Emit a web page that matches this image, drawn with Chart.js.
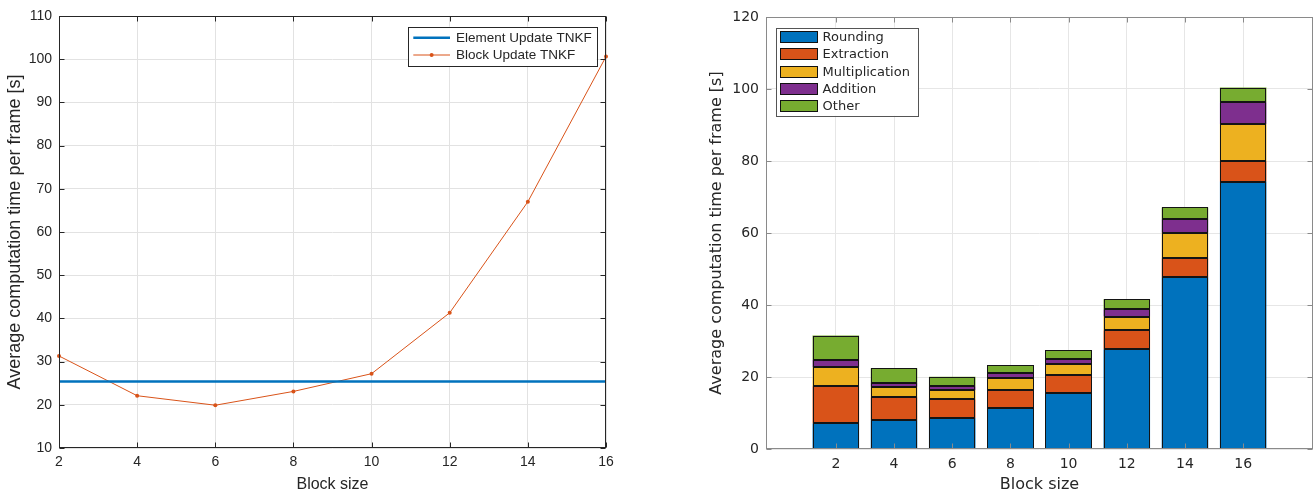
<!DOCTYPE html>
<html>
<head>
<meta charset="utf-8">
<script src="https://cdn.jsdelivr.net/npm/chart.js@4.4.0/dist/chart.umd.min.js"></script>
<style>
  html, body { margin: 0; padding: 0; background: #fff; overflow: hidden; width: 1316px; height: 492px; }
  canvas { position: absolute; top: 0; }
  #lineCanvas { left: 0; width: 630px; height: 500px; }
  #barCanvas { left: 660px; width: 656px; height: 500px; }
</style>
</head>
<body>
<canvas id="lineCanvas" width="630" height="500"></canvas>
<canvas id="barCanvas" width="656" height="500"></canvas>
<script>
// Block sizes evaluated
const blockSizes = [2, 4, 6, 8, 10, 12, 14, 16];

// Average computation time per frame [s]
const blockUpdateTime = [31.3, 22.1, 19.9, 23.1, 27.2, 41.3, 67.0, 100.6];
const elementUpdateTime = 25.4;

// Breakdown of the block update time per stage [s]
const roundingTime       = [7.1, 8.0, 8.6, 11.4, 15.5, 27.7, 47.7, 74.3];
const extractionTime     = [10.3, 6.4, 5.2, 5.0, 5.1, 5.3, 5.3, 5.7];
const multiplicationTime = [5.3, 2.9, 2.5, 3.4, 2.9, 3.8, 7.1, 10.3];
const additionTime       = [2.0, 1.1, 1.1, 1.2, 1.5, 2.0, 3.7, 6.0];
const otherTime          = [6.8, 4.0, 2.7, 2.3, 2.4, 2.8, 3.3, 4.1];

const stageNames = ['Rounding', 'Extraction', 'Multiplication', 'Addition', 'Other'];
const stageSeries = [roundingTime, extractionTime, multiplicationTime, additionTime, otherTime];
const stageColors = ['#0072BD', '#D95319', '#EDB120', '#7E2F8E', '#77AC30'];

const lineTicksY = [10, 20, 30, 40, 50, 60, 70, 80, 90, 100, 110];
const barTicksY = [0, 20, 40, 60, 80, 100, 120];

const LEFT_FONT = "'Liberation Sans', Arial, sans-serif";
const RIGHT_FONT = "'DejaVu Sans', sans-serif";
const TEXT = '#262626';

// Crisp 1px outlines around every bar segment, taken from the drawn bar elements
const barOutline = {
  id: 'barOutline',
  afterDatasetsDraw(chart, args, o) {
    const { ctx } = chart;
    ctx.save();
    ctx.strokeStyle = o.color;
    ctx.lineWidth = 1;
    chart.data.datasets.forEach((ds, i) => {
      chart.getDatasetMeta(i).data.forEach(bar => {
        const { x, y, base, width } = bar.getProps(['x', 'y', 'base', 'width'], true);
        const l = Math.round(x - width / 2) + 0.5;
        const r = Math.round(x + width / 2) - 0.5;
        const t = Math.round(Math.min(y, base)) + 0.5;
        const b = Math.round(Math.max(y, base)) - 0.5;
        ctx.strokeRect(l, t, r - l, b - t);
      });
    });
    ctx.restore();
  }
};

// Axes box plus inward tick marks on all four sides
const axesFrame = {
  id: 'axesFrame',
  afterDatasetsDraw(chart, args, o) {
    const { ctx, chartArea: a, scales } = chart;
    const L = o.tickLen;
    const left = Math.round(a.left) + 0.5, right = Math.round(a.right) - 0.5;
    const top = Math.round(a.top) + 0.5, bottom = Math.round(a.bottom) - 0.5;
    ctx.save();
    ctx.strokeStyle = o.color;
    ctx.lineWidth = 1;
    ctx.beginPath();
    scales.x.ticks.forEach(t => {
      const x = Math.round(scales.x.getPixelForValue(t.value)) + 0.5;
      ctx.moveTo(x, bottom); ctx.lineTo(x, bottom - L);
      ctx.moveTo(x, top); ctx.lineTo(x, top + L);
    });
    scales.y.ticks.forEach(t => {
      const y = Math.round(scales.y.getPixelForValue(t.value)) + 0.5;
      ctx.moveTo(left, y); ctx.lineTo(left + L, y);
      ctx.moveTo(right, y); ctx.lineTo(right - L, y);
    });
    ctx.stroke();
    ctx.strokeRect(left, top, right - left, bottom - top);
    ctx.restore();
  }
};

// Boxed legend placed inside the plot area
const boxLegend = {
  id: 'boxLegend',
  afterDraw(chart, args, o) {
    const { ctx, chartArea: a } = chart;
    const bx = o.anchor === 'right' ? a.right - o.dx - o.width : a.left + o.dx;
    const by = a.top + o.dy;
    const n = chart.data.datasets.length;
    const h = o.padTop * 2 + o.rowHeight * (n - 1);
    ctx.save();
    ctx.fillStyle = '#fff';
    ctx.fillRect(bx, by, o.width, h);
    ctx.strokeStyle = o.borderColor;
    ctx.lineWidth = 1;
    ctx.strokeRect(Math.round(bx) + 0.5, Math.round(by) + 0.5, Math.round(o.width), Math.round(h));
    ctx.font = o.font;
    ctx.textBaseline = 'middle';
    ctx.textAlign = 'left';
    chart.data.datasets.forEach((ds, i) => {
      const cy = by + o.padTop + i * o.rowHeight;
      const sx = bx + o.sampleX;
      if (o.sample === 'box') {
        const top = Math.round(cy - o.sampleH / 2);
        ctx.fillStyle = ds.backgroundColor;
        ctx.fillRect(Math.round(sx), top, Math.round(o.sampleW), Math.round(o.sampleH));
        ctx.strokeStyle = '#111';
        ctx.strokeRect(Math.round(sx) + 0.5, top + 0.5, Math.round(o.sampleW) - 1, Math.round(o.sampleH) - 1);
      } else {
        ctx.strokeStyle = ds.borderColor;
        ctx.lineWidth = ds.borderWidth;
        ctx.beginPath();
        ctx.moveTo(sx, cy); ctx.lineTo(sx + o.sampleW, cy);
        ctx.stroke();
        if (ds.pointRadius > 0) {
          ctx.fillStyle = ds.borderColor;
          ctx.beginPath();
          ctx.arc(sx + o.sampleW / 2, cy, ds.pointRadius, 0, Math.PI * 2);
          ctx.fill();
        }
        ctx.lineWidth = 1;
      }
      ctx.fillStyle = TEXT;
      ctx.fillText(ds.label, bx + o.textX, cy + 0.5);
    });
    ctx.restore();
  }
};

// Left: total time per frame vs block size
new Chart(document.getElementById('lineCanvas'), {
  type: 'line',
  data: {
    datasets: [
      {
        label: 'Element Update TNKF',
        data: [blockSizes[0], blockSizes[blockSizes.length - 1]].map(b => ({ x: b, y: elementUpdateTime })),
        borderColor: '#0072BD',
        borderWidth: 2.5,
        pointRadius: 0
      },
      {
        label: 'Block Update TNKF',
        data: blockSizes.map((b, i) => ({ x: b, y: blockUpdateTime[i] })),
        borderColor: '#D95319',
        backgroundColor: '#D95319',
        borderWidth: 1,
        pointRadius: 2,
        pointBorderWidth: 0,
        clip: 4
      }
    ]
  },
  options: {
    responsive: false,
    animation: false,
    devicePixelRatio: 1,
    layout: { padding: { top: 16, right: 24, left: 0, bottom: 0 } },
    plugins: {
      legend: { display: false },
      tooltip: { enabled: false },
      axesFrame: { color: '#262626', tickLen: 5 },
      boxLegend: {
        anchor: 'right', dx: 9.3, dy: 10.7, width: 188.7, padTop: 11, rowHeight: 17.3,
        sample: 'line', sampleX: 5.3, sampleW: 36.7, textX: 48,
        font: `13.5px ${LEFT_FONT}`, borderColor: '#262626'
      }
    },
    scales: {
      x: {
        type: 'linear', min: 2, max: 16,
        afterBuildTicks(s) { s.ticks = blockSizes.map(v => ({ value: v })); },
        afterFit(s) { s.height = 52; },
        ticks: { padding: 6, color: TEXT, font: { family: LEFT_FONT, size: 14 }, maxRotation: 0 },
        grid: { color: '#e2e2e2', drawTicks: false },
        border: { display: false },
        title: { display: true, text: 'Block size', color: TEXT, font: { family: LEFT_FONT, size: 16 }, padding: { top: 0, bottom: 5.4 } }
      },
      y: {
        min: 10, max: 110,
        afterBuildTicks(s) { s.ticks = lineTicksY.map(v => ({ value: v })); },
        afterFit(s) { s.width = 59; },
        ticks: { padding: 7, color: TEXT, font: { family: LEFT_FONT, size: 14 } },
        grid: { color: '#e2e2e2', drawTicks: false },
        border: { display: false },
        title: { display: true, text: 'Average computation time per frame [s]', color: TEXT, font: { family: LEFT_FONT, size: 18 }, padding: { top: 4.2, bottom: 0 } }
      }
    }
  },
  plugins: [axesFrame, boxLegend]
});

// Right: stacked breakdown of the block update time
new Chart(document.getElementById('barCanvas'), {
  type: 'bar',
  data: {
    datasets: stageNames.map((name, k) => ({
      label: name,
      data: blockSizes.map((b, i) => ({ x: b, y: stageSeries[k][i] })),
      backgroundColor: stageColors[k],
      borderWidth: 0,
      barPercentage: 0.8,
      categoryPercentage: 1.0
    }))
  },
  options: {
    responsive: false,
    animation: false,
    devicePixelRatio: 1,
    layout: { padding: { top: 17, right: 3, left: 0, bottom: 0 } },
    plugins: {
      legend: { display: false },
      tooltip: { enabled: false },
      barOutline: { color: '#141414' },
      axesFrame: { color: '#8a8a8a', tickLen: 5 },
      boxLegend: {
        anchor: 'left', dx: 10, dy: 10.6, width: 142, padTop: 9.9, rowHeight: 17.1,
        sample: 'box', sampleX: 4.3, sampleW: 38.3, sampleH: 12.3, textX: 46.6,
        font: `13px ${RIGHT_FONT}`, borderColor: '#555'
      }
    },
    scales: {
      x: {
        type: 'linear', min: -0.4, max: 18.4, stacked: true, offset: false,
        afterBuildTicks(s) { s.ticks = blockSizes.map(v => ({ value: v })); },
        afterFit(s) { s.height = 51; },
        ticks: { padding: 7, color: TEXT, font: { family: RIGHT_FONT, size: 14 }, maxRotation: 0 },
        grid: { color: '#e6e6e6', drawTicks: false, offset: false },
        border: { display: false },
        title: { display: true, text: 'Block size', color: TEXT, font: { family: RIGHT_FONT, size: 16 }, padding: { top: 0, bottom: 5.4 } }
      },
      y: {
        min: 0, max: 120, stacked: true,
        afterBuildTicks(s) { s.ticks = barTicksY.map(v => ({ value: v })); },
        afterFit(s) { s.width = 106; },
        ticks: { padding: 7, color: TEXT, font: { family: RIGHT_FONT, size: 14 } },
        grid: { color: '#e6e6e6', drawTicks: false },
        border: { display: false },
        title: { display: true, text: 'Average computation time per frame [s]', color: TEXT, font: { family: RIGHT_FONT, size: 16 }, padding: { top: 47.4, bottom: 0 } }
      }
    }
  },
  plugins: [barOutline, axesFrame, boxLegend]
});
</script>
</body>
</html>
